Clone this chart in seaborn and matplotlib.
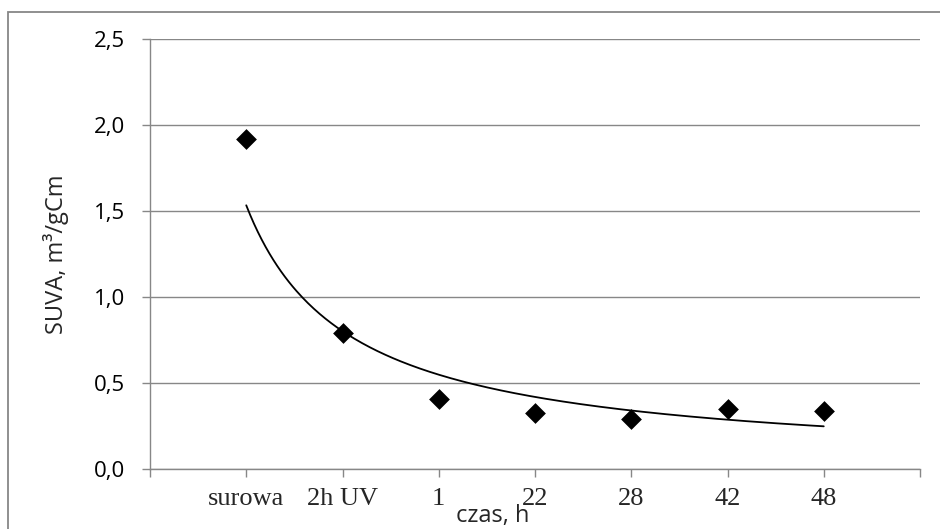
import numpy as np
import pandas as pd
import matplotlib
matplotlib.use("Agg")
import matplotlib.pyplot as plt
import matplotlib.patches as mpatches
from matplotlib.ticker import FuncFormatter
import seaborn as sns

# ---- data ----
categories = ["surowa", "2h UV", "1", "22", "28", "42", "48"]
suva = [1.92, 0.79, 0.405, 0.327, 0.289, 0.349, 0.337]
y_ticks = [0.0, 0.5, 1.0, 1.5, 2.0, 2.5]

x_pos = np.arange(1, len(categories) + 1)
df = pd.DataFrame({"x": x_pos, "suva": suva})

# power trendline (Excel style) fitted on the data
b, lna = np.polyfit(np.log(x_pos), np.log(suva), 1)
xs = np.linspace(x_pos[0], x_pos[-1], 300)
trend = pd.DataFrame({"x": xs, "y": np.exp(lna) * xs ** b})

sns.set_theme(style="white")
plt.rcParams["font.family"] = ["Open Sans", "DejaVu Sans"]

GRAY = "#878787"
fig = plt.figure(figsize=(9.4, 5.29), dpi=100)
ax = fig.add_axes([150 / 940, 60 / 529, 770 / 940, 430 / 529])

sns.lineplot(data=trend, x="x", y="y", ax=ax, color="black", lw=1.3, zorder=3)
sns.scatterplot(data=df, x="x", y="suva", ax=ax, marker="D", s=112,
                color="black", edgecolor="black", linewidth=0, zorder=4)

ax.set_xlim(0, len(categories) + 1)
ax.set_ylim(y_ticks[0], y_ticks[-1])
ax.set_yticks(y_ticks)
ax.yaxis.set_major_formatter(FuncFormatter(lambda v, p: f"{v:.1f}".replace(".", ",")))
ax.set_xticks(np.arange(0, len(categories) + 2))
ax.set_xticklabels([""] + categories + [""], family=["Liberation Serif"], fontsize=19)
for t in ax.get_yticklabels():
    t.set_fontsize(16)

ax.grid(axis="y", color=GRAY, lw=1.0)
ax.grid(axis="x", visible=False)
for s in ["top", "right"]:
    ax.spines[s].set_visible(False)
for s in ["left", "bottom"]:
    ax.spines[s].set_color(GRAY)
    ax.spines[s].set_linewidth(1.0)

ax.tick_params(axis="x", which="major", direction="out", length=6, width=1.0,
               color=GRAY, pad=8, bottom=True)
ax.tick_params(axis="y", which="major", direction="out", length=6, width=1.0,
               color=GRAY, pad=12, left=True, labelcolor="black")

ax.set_xlabel("czas, h", fontsize=17)
ax.xaxis.set_label_coords((493 - 150) / 770, (469 - 522) / 430)
ax.xaxis.label.set_verticalalignment("baseline")
ax.set_ylabel("SUVA, m³/gCm", fontsize=17)
ax.yaxis.set_label_coords((56 - 150) / 770, 0.5)
ax.yaxis.label.set_verticalalignment("center")

# chart area border (Excel style)
fig.patches.append(mpatches.Rectangle((8 / 940, -0.2), 1.2, 1 - 12 / 529 + 0.2,
                                      transform=fig.transFigure, fill=False,
                                      edgecolor=GRAY, lw=1.3))

fig.savefig("out.png", dpi=100)
